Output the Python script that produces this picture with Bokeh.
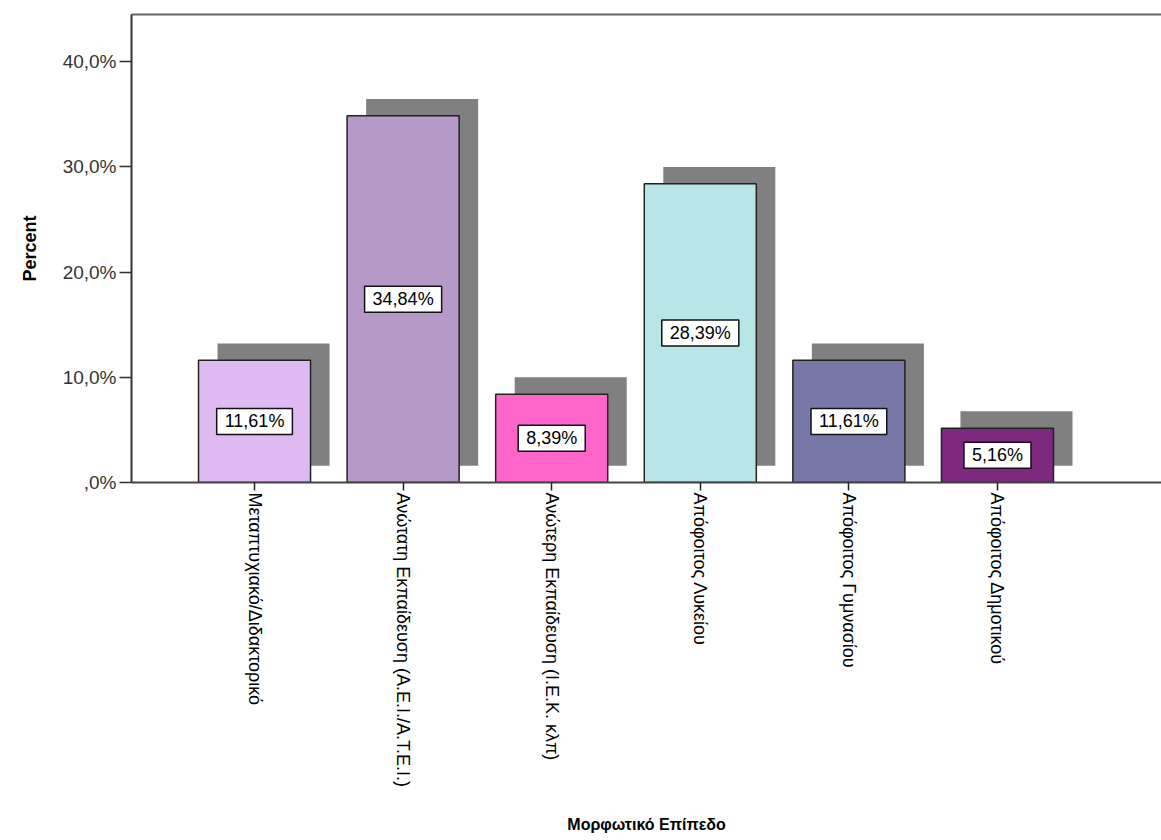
import math
from bokeh.plotting import figure
from bokeh.models import FixedTicker, LinearAxis, ColumnDataSource, Range1d
from bokeh.core.properties import value
from bokeh.embed import file_html
from bokeh.resources import INLINE

categories = ["Μεταπτυχιακό/Διδακτορικό",
              "Ανώτατη Εκπαίδευση (Α.Ε.Ι./Α.Τ.Ε.Ι.)",
              "Ανώτερη Εκπαίδευση (Ι.Ε.Κ. κλπ)",
              "Απόφοιτος Λυκείου",
              "Απόφοιτος Γυμνασίου",
              "Απόφοιτος Δημοτικού"]
percents = [11.61, 34.84, 8.39, 28.39, 11.61, 5.16]
bar_labels = ["11,61%", "34,84%", "8,39%", "28,39%", "11,61%", "5,16%"]
bar_colors = ["#DFB9F2", "#B799C7", "#FF66CC", "#B8E6E6", "#7777A8", "#7E287E"]
y_ticks = [0, 10, 20, 30, 40]
y_tick_labels = [",0%", "10,0%", "20,0%", "30,0%", "40,0%"]

FONT = "Liberation Sans"
W, H = 1161, 840
positions = list(range(len(categories)))

bar_w = 0.754
shadow_dx = 0.128
shadow_dy = 1.6

src = ColumnDataSource(dict(
    x=positions,
    top=percents,
    sx=[p + shadow_dx for p in positions],
    stop=[v + shadow_dy for v in percents],
    sbottom=[shadow_dy] * len(percents),
    ymid=[v / 2 for v in percents],
    lab=bar_labels,
    color=bar_colors,
))

p = figure(width=W, height=H, output_backend="svg", toolbar_location=None,
           x_range=Range1d(-0.828, 6.104), y_range=Range1d(0, 44.47),
           min_border_left=131, min_border_right=0, min_border_top=14,
           min_border_bottom=358)
p.outline_line_color = None
p.xgrid.visible = False
p.ygrid.visible = False
p.background_fill_color = "white"
p.border_fill_color = "white"

# shadows
p.vbar(x="sx", width=bar_w, top="stop", bottom="sbottom", source=src,
       fill_color="#808080", line_color=None)
# bars
p.vbar(x="x", width=bar_w, top="top", bottom=0, source=src,
       fill_color="color", line_color="#222222", line_width=1.5)
# value labels
p.text(x="x", y="ymid", text="lab", source=src,
       text_align="center", text_baseline="middle",
       text_font=value(FONT), text_font_size="18px", text_color="black",
       background_fill_color="white", border_line_color="#111111",
       border_line_width=1.5, padding=dict(left=8, right=8, top=3, bottom=3))

# y axis
ya = p.yaxis[0]
ya.ticker = FixedTicker(ticks=y_ticks)
ya.major_label_overrides = {t: l for t, l in zip(y_ticks, y_tick_labels)}
ya.minor_tick_line_color = None
ya.major_tick_in = 0
ya.major_tick_out = 12
ya.major_tick_line_color = "#333333"
ya.major_tick_line_width = 1.5
ya.axis_line_color = "#333333"
ya.axis_line_width = 2
ya.major_label_text_font = FONT
ya.major_label_text_font_size = "19px"
ya.major_label_text_color = "#333333"
ya.major_label_standoff = 3
ya.axis_label = "Percent"
ya.axis_label_text_font = FONT
ya.axis_label_text_font_size = "18px"
ya.axis_label_text_font_style = "bold"
ya.axis_label_text_color = "black"
ya.axis_label_standoff = 20

# x axis
xa = p.xaxis[0]
xa.ticker = FixedTicker(ticks=positions)
xa.major_label_overrides = {i: c for i, c in zip(positions, categories)}
xa.major_label_orientation = -math.pi / 2
xa.minor_tick_line_color = None
xa.major_tick_in = 0
xa.major_tick_out = 8
xa.major_tick_line_color = "#222222"
xa.major_tick_line_width = 1.5
xa.axis_line_color = "#444444"
xa.axis_line_width = 2
xa.major_label_text_font = FONT
xa.major_label_text_font_size = "18px"
xa.major_label_text_color = "black"
xa.major_label_standoff = 2
xa.axis_label = "Μορφωτικό Επίπεδο"
xa.axis_label_text_font = FONT
xa.axis_label_text_font_size = "16px"
xa.axis_label_text_font_style = "bold"
xa.axis_label_text_color = "black"
xa.axis_label_standoff = 26

# top frame line
top_axis = LinearAxis(ticker=FixedTicker(ticks=[]), major_label_text_font_size="0px",
                      axis_line_color="#666666", axis_line_width=2,
                      major_tick_line_color=None, minor_tick_line_color=None)
p.add_layout(top_axis, "above")

open("out.html", "w").write(file_html(p, INLINE))
